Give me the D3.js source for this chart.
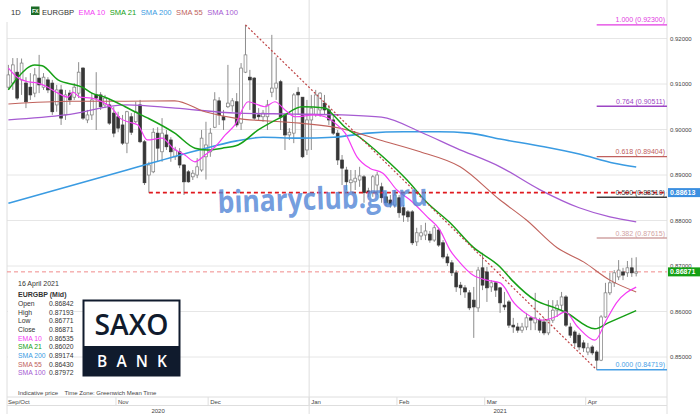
<!DOCTYPE html>
<html>
<head>
<meta charset="utf-8">
<script src="https://cdn.jsdelivr.net/npm/d3@7"></script>
<style>
  html, body { margin: 0; padding: 0; background: #fff; }
  svg { display: block; font-family: "Liberation Sans", Arial, sans-serif; }
</style>
</head>
<body>
<svg id="chart" width="700" height="420"></svg>
<script>
// daily EURGBP candles, 28 Sep 2020 .. 16 Apr 2021
const opens = [
  0.9093, 0.9102, 0.9126, 0.9109, 0.9102, 0.9093, 0.9080, 0.9113, 0.9093, 0.9109,
  0.9102, 0.9054, 0.9087, 0.9032, 0.9080, 0.9071, 0.9080, 0.9135, 0.9021, 0.9032,
  0.9076, 0.9076, 0.9054, 0.9054, 0.9036, 0.9028, 0.9010, 0.8970, 0.9028, 0.9017,
  0.9054, 0.8973, 0.8900, 0.8907, 0.8992, 0.8951, 0.8988, 0.8977, 0.8940, 0.8951,
  0.8922, 0.8907, 0.8896, 0.8900, 0.8911, 0.8940, 0.8951, 0.9005, 0.9063, 0.9028,
  0.9050, 0.9052, 0.9061, 0.9014, 0.9126, 0.9115, 0.9113, 0.9032, 0.9028, 0.9028,
  0.9082, 0.9091, 0.9105, 0.9032, 0.8988, 0.8992, 0.9082, 0.9071, 0.8955, 0.9021,
  0.9032, 0.9043, 0.9058, 0.9043, 0.9021, 0.8992, 0.8933, 0.8911, 0.8883, 0.8885,
  0.8889, 0.8896, 0.8865, 0.8861, 0.8878, 0.8874, 0.8852, 0.8845, 0.8834, 0.8850,
  0.8828, 0.8819, 0.8819, 0.8753, 0.8766, 0.8768, 0.8770, 0.8757, 0.8779, 0.8751,
  0.8720, 0.8707, 0.8685, 0.8658, 0.8652, 0.8641, 0.8625, 0.8608, 0.8696, 0.8687,
  0.8654, 0.8663, 0.8652, 0.8614, 0.8621, 0.8570, 0.8566, 0.8559, 0.8566, 0.8586,
  0.8575, 0.8581, 0.8577, 0.8553, 0.8581, 0.8603, 0.8614, 0.8632, 0.8566, 0.8555,
  0.8548, 0.8531, 0.8511, 0.8522, 0.8511, 0.8493, 0.8588, 0.8641, 0.8663, 0.8676,
  0.8687, 0.8685, 0.8696, 0.86842
];
const highs = [
  0.9142, 0.9157, 0.9157, 0.9156, 0.9115, 0.9124, 0.9135, 0.9164, 0.9124, 0.9115,
  0.9109, 0.9098, 0.9098, 0.9087, 0.9087, 0.9102, 0.9148, 0.9137, 0.9043, 0.9080,
  0.9126, 0.9082, 0.9076, 0.9065, 0.9050, 0.9039, 0.9032, 0.9041, 0.9036, 0.9061,
  0.9065, 0.8977, 0.8929, 0.9003, 0.9005, 0.9025, 0.8999, 0.8983, 0.8962, 0.8959,
  0.8924, 0.8911, 0.8911, 0.8937, 0.8999, 0.9017, 0.9003, 0.9082, 0.9071, 0.9043,
  0.9142, 0.9069, 0.9080, 0.9146, 0.9230, 0.9131, 0.9115, 0.9047, 0.9043, 0.9065,
  0.9208, 0.9159, 0.9109, 0.9036, 0.9003, 0.9080, 0.9093, 0.9071, 0.9065, 0.9076,
  0.9087, 0.9082, 0.9076, 0.9054, 0.9032, 0.8999, 0.8944, 0.8918, 0.8911, 0.8911,
  0.8918, 0.8900, 0.8872, 0.8900, 0.8907, 0.8883, 0.8861, 0.8856, 0.8867, 0.8856,
  0.8834, 0.8823, 0.8823, 0.8784, 0.8790, 0.8795, 0.8777, 0.8790, 0.8784, 0.8757,
  0.8727, 0.8713, 0.8691, 0.8665, 0.8658, 0.8647, 0.8654, 0.8698, 0.8729, 0.8698,
  0.8669, 0.8665, 0.8654, 0.8643, 0.8625, 0.8586, 0.8575, 0.8575, 0.8597, 0.8588,
  0.8641, 0.8586, 0.8586, 0.8625, 0.8625, 0.8625, 0.8643, 0.8636, 0.8575, 0.8559,
  0.8553, 0.8537, 0.8531, 0.8526, 0.8515, 0.8592, 0.8663, 0.8685, 0.8691, 0.8713,
  0.8696, 0.8711, 0.8718, 0.87193
];
const lows = [
  0.9087, 0.9087, 0.9065, 0.9076, 0.9047, 0.9065, 0.9071, 0.9080, 0.9087, 0.9080,
  0.9032, 0.9039, 0.9010, 0.9021, 0.9054, 0.9065, 0.9069, 0.9021, 0.9014, 0.9021,
  0.8999, 0.9043, 0.9047, 0.9010, 0.8983, 0.8994, 0.8966, 0.8948, 0.8988, 0.9014,
  0.8970, 0.8878, 0.8861, 0.8904, 0.8929, 0.8929, 0.8955, 0.8929, 0.8933, 0.8915,
  0.8856, 0.8883, 0.8889, 0.8893, 0.8907, 0.8890, 0.8940, 0.9003, 0.9010, 0.8999,
  0.9047, 0.9039, 0.9005, 0.8999, 0.9124, 0.9043, 0.9021, 0.9021, 0.9017, 0.8999,
  0.9071, 0.9065, 0.8999, 0.8955, 0.8977, 0.8970, 0.9032, 0.8937, 0.8944, 0.8955,
  0.9028, 0.9028, 0.9032, 0.9010, 0.8988, 0.8922, 0.8878, 0.8867, 0.8863, 0.8867,
  0.8874, 0.8839, 0.8852, 0.8852, 0.8856, 0.8839, 0.8832, 0.8828, 0.8828, 0.8806,
  0.8797, 0.8797, 0.8746, 0.8744, 0.8757, 0.8757, 0.8751, 0.8753, 0.8742, 0.8716,
  0.8700, 0.8678, 0.8643, 0.8636, 0.8630, 0.8603, 0.8542, 0.8599, 0.8647, 0.8621,
  0.8643, 0.8632, 0.8597, 0.8603, 0.8564, 0.8553, 0.8553, 0.8553, 0.8559, 0.8559,
  0.8559, 0.8553, 0.8548, 0.8548, 0.8575, 0.8588, 0.8603, 0.8566, 0.8542, 0.8522,
  0.8515, 0.8511, 0.8504, 0.8504, 0.8472, 0.8491, 0.8586, 0.8636, 0.8654, 0.8669,
  0.8669, 0.8676, 0.8676, 0.86771
];
const closes = [
  0.9120, 0.9142, 0.9069, 0.9146, 0.9061, 0.9076, 0.9120, 0.9098, 0.9115, 0.9087,
  0.9039, 0.9087, 0.9025, 0.9076, 0.9065, 0.9093, 0.9126, 0.9025, 0.9032, 0.9065,
  0.9069, 0.9050, 0.9069, 0.9014, 0.8992, 0.9003, 0.8970, 0.9039, 0.8994, 0.9039,
  0.8973, 0.8883, 0.8922, 0.8994, 0.8959, 0.8992, 0.8962, 0.8951, 0.8955, 0.8922,
  0.8885, 0.8885, 0.8904, 0.8918, 0.8981, 0.8966, 0.8992, 0.9065, 0.9032, 0.9021,
  0.9058, 0.9063, 0.9010, 0.9135, 0.9164, 0.9109, 0.9025, 0.9028, 0.9036, 0.9054,
  0.9091, 0.9102, 0.9028, 0.8988, 0.8994, 0.9076, 0.9076, 0.8940, 0.9021, 0.9047,
  0.9076, 0.9080, 0.9043, 0.9021, 0.8992, 0.8933, 0.8915, 0.8885, 0.8889, 0.8893,
  0.8898, 0.8861, 0.8861, 0.8896, 0.8900, 0.8850, 0.8839, 0.8836, 0.8856, 0.8817,
  0.8812, 0.8808, 0.8751, 0.8773, 0.8773, 0.8777, 0.8757, 0.8784, 0.8746, 0.8720,
  0.8707, 0.8685, 0.8654, 0.8652, 0.8643, 0.8608, 0.8610, 0.8691, 0.8658, 0.8652,
  0.8663, 0.8647, 0.8619, 0.8610, 0.8570, 0.8566, 0.8559, 0.8566, 0.8586, 0.8581,
  0.8586, 0.8559, 0.8553, 0.8581, 0.8603, 0.8614, 0.8632, 0.8570, 0.8548, 0.8531,
  0.8522, 0.8520, 0.8520, 0.8509, 0.8493, 0.8588, 0.8641, 0.8663, 0.8685, 0.8691,
  0.8680, 0.8696, 0.8685, 0.86871
];

// moving averages as [bar index, value]
const ema10 = [
  [0, 0.9135], [2, 0.9115], [4.5, 0.9105], [6.7, 0.9102], [9, 0.9093], [11.3, 0.9080],
  [13.6, 0.9071], [14.7, 0.9082], [16.3, 0.9071], [19, 0.9069], [21.3, 0.9061], [23.6, 0.9047],
  [25.4, 0.9025], [27.2, 0.9017], [29.5, 0.9010], [31.6, 0.8977], [35, 0.8981], [37.5, 0.8959],
  [40.2, 0.8944], [42.5, 0.8929], [44.8, 0.8944], [47.1, 0.8962], [49.4, 0.8988], [51.6, 0.9010],
  [54.6, 0.9061], [56.9, 0.9054], [58.4, 0.9050], [60.7, 0.9061], [63, 0.9043], [65.3, 0.9028],
  [69.8, 0.9032], [72.1, 0.9028], [74.4, 0.9014], [76.7, 0.8992], [79.4, 0.8940], [82.3, 0.8915],
  [85.3, 0.8904], [88.5, 0.8867], [91.5, 0.8845], [95.4, 0.8808], [98.3, 0.8779], [100.6, 0.8735],
  [102.9, 0.8707], [105.8, 0.8680], [109, 0.8669], [112, 0.8663], [113.1, 0.8652], [114.7, 0.8625],
  [117.7, 0.8597], [121.6, 0.8581], [124.5, 0.8588], [126.8, 0.8599], [129.7, 0.8566], [133.6, 0.8537],
  [136.2, 0.8581], [138.5, 0.8619], [143, 0.86535]
];
const sma21 = [
  [0, 0.9087], [2.2, 0.9115], [6, 0.9142], [7.7, 0.9140], [11.3, 0.9109], [16.8, 0.9093],
  [19, 0.9080], [22, 0.9071], [26.6, 0.9050], [28.8, 0.9039], [31.8, 0.9025], [37.9, 0.8992],
  [42.5, 0.8959], [45.5, 0.8955], [48.7, 0.8959], [52.3, 0.8966], [56.9, 0.8999], [62.3, 0.9028],
  [66.9, 0.9050], [72.1, 0.9047], [74.4, 0.9028], [76.7, 0.9005], [80, 0.8983], [85.3, 0.8940],
  [90.8, 0.8889], [95.4, 0.8839], [100.6, 0.8795], [105.8, 0.8742], [112, 0.8698], [114.7, 0.8669],
  [120, 0.8625], [124.5, 0.8608], [126.8, 0.8599], [133.6, 0.8562], [136.6, 0.8575], [143, 0.86020]
];
const sma55 = [
  [0, 0.9056], [14.5, 0.9062], [26.6, 0.9062], [37.9, 0.9063], [44.8, 0.9039], [51.6, 0.9025],
  [66.4, 0.9014], [75.5, 0.9003], [84.6, 0.8977], [93.8, 0.8951], [102.9, 0.8918], [112, 0.8845],
  [118, 0.8801], [125, 0.8740], [131, 0.8709], [137, 0.8669], [143, 0.86430]
];
const sma100 = [
  [0, 0.9021], [13, 0.9032], [27, 0.9054], [38, 0.9047], [52, 0.9036], [65, 0.9034],
  [76, 0.9032], [85, 0.9027], [94, 0.8994], [102, 0.8959], [112, 0.8918], [121, 0.8868],
  [130, 0.8828], [137, 0.8808], [143, 0.87972]
];
const sma200 = [
  [0, 0.8838], [27, 0.8911], [43, 0.8954], [52, 0.8975], [58, 0.8983], [66, 0.8981],
  [74, 0.8983], [82, 0.8992], [90, 0.8995], [98, 0.8995], [105, 0.8992], [112, 0.8979],
  [122, 0.8962], [130, 0.8946], [138, 0.8926], [143, 0.89174]
];

const monthLabels = ['Sep/Oct', 'Nov', 'Dec', 'Jan', 'Feb', 'Mar', 'Apr'];
const monthStarts = [0, 25, 46, 69, 89, 109, 132];
const yearLabels = ['2020', '2021'];
const yearStarts = [0, 69];
const priceTicks = [0.85, 0.86, 0.87, 0.88, 0.89, 0.90, 0.91, 0.92];

const fibRatios = ['1.000', '0.764', '0.618', '0.500', '0.382', '0.000'];
const fibLevels = [0.92300, 0.90511, 0.89404, 0.88510, 0.87615, 0.84719];
const trendFrom = [54, 0.92300];
const trendTo = [134, 0.84719];
const supportFrom = 32;
const supportLevel = 0.88613;
const lastPrice = 0.86871;

const infoLabels = ['Open', 'High', 'Low', 'Close', 'EMA 10', 'SMA 21', 'SMA 200', 'SMA 55', 'SMA 100'];
const infoValues = ['0.86842', '0.87193', '0.86771', '0.86871', '0.86535', '0.86020', '0.89174', '0.86430', '0.87972'];

// styles
const fibColors = ['#e23be2', '#9c45c4', '#c0605d', '#3d3d3d', '#d1a3a3', '#48a0e6'];
const maColors = { ema10: '#f43cf4', sma21: '#16a016', sma200: '#3a9be2', sma55: '#c0625c', sma100: '#a65bd2' };
const infoColors = ['#333', '#333', '#333', '#333', maColors.ema10, maColors.sma21, maColors.sma200, maColors.sma55, maColors.sma100];

const svg = d3.select('#chart');
const plotLeft = 7, plotRight = 667, plotBottom = 397;

const x = d3.scaleLinear().domain([0, 143]).range([8.4, 636.2]);
const step = x(1) - x(0);
const y = d3.scaleLinear().domain([0.85, 0.92]).range([357, 38.5]);

// grid
svg.append('g').selectAll('line').data(priceTicks).enter().append('line')
  .attr('x1', plotLeft).attr('x2', plotRight)
  .attr('y1', d => y(d)).attr('y2', d => y(d))
  .attr('stroke', '#e6e6e6').attr('stroke-width', 1);

const frame = svg.append('g').attr('stroke', '#dedede').attr('stroke-width', 1);
frame.append('line').attr('x1', plotLeft).attr('x2', plotLeft).attr('y1', 22).attr('y2', 414);
frame.append('line').attr('x1', plotRight).attr('x2', plotRight).attr('y1', 0).attr('y2', 414);
frame.append('line').attr('x1', x(69) - step / 2).attr('x2', x(69) - step / 2).attr('y1', 0).attr('y2', 414);
frame.append('line').attr('x1', plotLeft).attr('x2', plotRight).attr('y1', plotBottom).attr('y2', plotBottom);
frame.append('line').attr('x1', plotLeft).attr('x2', plotRight).attr('y1', 405.5).attr('y2', 405.5);

// price axis
const yAxis = d3.axisRight(y).tickValues(priceTicks).tickSize(0).tickPadding(3).tickFormat(d3.format('.5f'));
svg.append('g').attr('transform', `translate(${plotRight},0)`).call(yAxis)
  .call(g => g.select('.domain').remove())
  .selectAll('text').attr('font-size', 6).attr('fill', '#444')
  .attr('font-family', '"Liberation Sans", Arial, sans-serif');

// time axis
const months = svg.append('g');
months.selectAll('line').data(monthStarts.slice(1)).enter().append('line')
  .attr('x1', d => x(d) - step / 2).attr('x2', d => x(d) - step / 2)
  .attr('y1', plotBottom).attr('y2', 405.5).attr('stroke', '#dedede');
months.selectAll('text').data(monthLabels).enter().append('text')
  .attr('x', (d, k) => k === 0 ? plotLeft + 1 : x(monthStarts[k]) - step / 2 + 2)
  .attr('y', 403.5).attr('font-size', 6).attr('fill', '#444').text(d => d);
const yearEnds = [x(69) - step / 2, 691];
svg.append('g').selectAll('text').data(yearLabels).enter().append('text')
  .attr('x', (d, k) => ((k === 0 ? plotLeft : x(yearStarts[k]) - step / 2) + yearEnds[k]) / 2)
  .attr('y', 412.5).attr('text-anchor', 'middle').attr('font-size', 6).attr('fill', '#444').text(d => d);

// current price line
svg.append('line').attr('x1', plotLeft).attr('x2', plotRight)
  .attr('y1', y(lastPrice)).attr('y2', y(lastPrice))
  .attr('stroke', '#f08a8a').attr('stroke-width', 1).attr('stroke-dasharray', '4,3');

// candles
const bars = d3.range(closes.length);
const candles = svg.append('g');
candles.selectAll('.wick').data(bars).enter().append('line')
  .attr('class', 'wick')
  .attr('x1', i => x(i)).attr('x2', i => x(i))
  .attr('y1', i => y(highs[i])).attr('y2', i => y(lows[i]))
  .attr('stroke', '#8c8c8c').attr('stroke-width', 1);
candles.selectAll('.body').data(bars).enter().append('rect')
  .attr('class', 'body')
  .attr('x', i => x(i) - step * 0.32)
  .attr('width', step * 0.64)
  .attr('y', i => y(Math.max(opens[i], closes[i])))
  .attr('height', i => Math.max(1, Math.abs(y(opens[i]) - y(closes[i]))))
  .attr('fill', i => closes[i] >= opens[i] ? '#fff' : '#363636')
  .attr('stroke', i => closes[i] >= opens[i] ? '#7a7a7a' : '#363636')
  .attr('stroke-width', 0.7);

// moving averages
const maLine = d3.line().x(d => x(d[0])).y(d => y(d[1])).curve(d3.curveMonotoneX);
const maSeries = [
  [sma200, maColors.sma200, 1.6],
  [sma100, maColors.sma100, 1.3],
  [sma55, maColors.sma55, 1.1],
  [sma21, maColors.sma21, 1.5],
  [ema10, maColors.ema10, 1.2]
];
svg.append('g').selectAll('path').data(maSeries).enter().append('path')
  .attr('d', d => maLine(d[0])).attr('fill', 'none')
  .attr('stroke', d => d[1]).attr('stroke-width', d => d[2]);

// trend line from top to bottom of the swing
svg.append('line')
  .attr('x1', x(trendFrom[0])).attr('y1', y(trendFrom[1]))
  .attr('x2', x(trendTo[0])).attr('y2', y(trendTo[1]))
  .attr('stroke', '#bf4446').attr('stroke-width', 1.2).attr('stroke-dasharray', '2,2');

// support line
svg.append('line').attr('x1', x(supportFrom)).attr('x2', plotRight)
  .attr('y1', y(supportLevel)).attr('y2', y(supportLevel))
  .attr('stroke', '#e0191e').attr('stroke-width', 1.6).attr('stroke-dasharray', '4,3');

// fibonacci levels
const fib = svg.append('g');
fib.selectAll('line').data(fibLevels).enter().append('line')
  .attr('x1', x(trendTo[0])).attr('x2', plotRight)
  .attr('y1', d => y(d)).attr('y2', d => y(d))
  .attr('stroke', (d, k) => fibColors[k]).attr('stroke-width', 1.4);
fib.selectAll('text').data(fibLevels).enter().append('text')
  .attr('x', plotRight - 2).attr('y', d => y(d) - 2.5)
  .attr('text-anchor', 'end').attr('font-size', 7)
  .attr('fill', (d, k) => fibColors[k])
  .text((d, k) => `${fibRatios[k]} (${d3.format('.5f')(d)})`);

// right edge price tags
const tags = [[supportLevel, '#3b8fe0'], [lastPrice, '#14a014']];
const tag = svg.append('g').selectAll('g').data(tags).enter().append('g');
tag.append('rect').attr('x', plotRight + 1).attr('y', d => y(d[0]) - 4.5)
  .attr('width', 33).attr('height', 9).attr('fill', d => d[1]);
tag.append('text').attr('x', plotRight + 3).attr('y', d => y(d[0]) + 2.5)
  .attr('font-size', 7).attr('font-weight', 'bold').attr('fill', '#fff')
  .text(d => d3.format('.5f')(d[0]));

// header legend
const head = svg.append('g').attr('font-size', 7.6);
head.append('text').attr('x', 11).attr('y', 15).attr('fill', '#333').text('1D');
head.append('rect').attr('x', 31).attr('y', 6.5).attr('width', 8.5).attr('height', 8.5).attr('fill', '#1c6b26');
head.append('text').attr('x', 35.2).attr('y', 13.2).attr('text-anchor', 'middle')
  .attr('font-size', 5.2).attr('font-weight', 'bold').attr('fill', '#fff').text('FX');
const legendItems = [['EURGBP', '#333'], ['EMA 10', maColors.ema10], ['SMA 21', maColors.sma21],
  ['SMA 200', maColors.sma200], ['SMA 55', maColors.sma55], ['SMA 100', maColors.sma100]];
let lx = 42;
legendItems.forEach(item => {
  const t = head.append('text').attr('x', lx).attr('y', 15).attr('fill', item[1]).text(item[0]);
  lx += t.node().getComputedTextLength() + 4.5;
});

// info box
const info = svg.append('g');
info.append('rect').attr('x', plotLeft + 1).attr('y', 276).attr('width', 66).attr('height', 106).attr('fill', '#fff');
info.append('text').attr('x', 18).attr('y', 285.5).attr('font-size', 7).attr('fill', '#333').text('16 April 2021');
info.append('text').attr('x', 18).attr('y', 296.5).attr('font-size', 7).attr('font-weight', 'bold')
  .attr('fill', '#333').text('EURGBP (Mid)');
info.selectAll('.lab').data(infoLabels).enter().append('text')
  .attr('class', 'lab').attr('x', 18).attr('y', (d, k) => 306 + k * 8.65)
  .attr('font-size', 6.8).attr('fill', (d, k) => infoColors[k]).text(d => d);
info.selectAll('.val').data(infoValues).enter().append('text')
  .attr('class', 'val').attr('x', 49).attr('y', (d, k) => 306 + k * 8.65)
  .attr('font-size', 6.8).attr('fill', '#333').text(d => d);
svg.append('text').attr('x', 18).attr('y', 395).attr('font-size', 6).attr('fill', '#444')
  .attr('xml:space', 'preserve').text('Indicative price    Time Zone: Greenwich Mean Time');

// logo
const logo = svg.append('g');
logo.append('rect').attr('x', 83.5).attr('y', 300.5).attr('width', 96).attr('height', 75)
  .attr('fill', '#fff').attr('stroke', '#101b2d').attr('stroke-width', 2);
logo.append('rect').attr('x', 83.5).attr('y', 346).attr('width', 96).attr('height', 29.5).attr('fill', '#101b2d');
logo.append('text').attr('x', 131.5).attr('y', 335).attr('text-anchor', 'middle')
  .attr('font-family', '"Open Sans", sans-serif').attr('font-size', 29).attr('font-weight', 600)
  .attr('fill', '#101b2d').attr('textLength', 74).attr('lengthAdjust', 'spacingAndGlyphs').text('SAXO');
logo.append('text').attr('x', 97).attr('y', 367).attr('font-family', '"Open Sans", sans-serif')
  .attr('font-size', 15.5).attr('font-weight', 600).attr('fill', '#fff')
  .attr('textLength', 70).attr('lengthAdjust', 'spacing').text('BANK');

// watermark
svg.append('text').attr('transform', 'translate(218,213) rotate(-2)')
  .attr('font-family', '"Open Sans", sans-serif').attr('font-size', 31).attr('font-weight', 'bold')
  .attr('fill', '#4f84d6').attr('fill-opacity', 0.8)
  .attr('textLength', 210).attr('lengthAdjust', 'spacingAndGlyphs').text('binaryclub.guru');
</script>
</body>
</html>
